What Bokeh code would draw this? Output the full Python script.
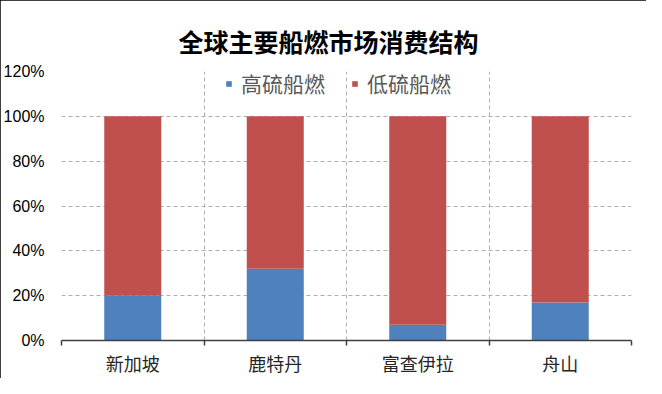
from bokeh.plotting import figure
from bokeh.models import (Range1d, FixedTicker, NumeralTickFormatter, Legend,
                          LegendItem, ColumnDataSource)
from bokeh.embed import file_html
from bokeh.resources import INLINE

title_text = "全球主要船燃市场消费结构"
ports = ["新加坡", "鹿特丹", "富查伊拉", "舟山"]
high_sulfur = [0.20, 0.32, 0.07, 0.17]
low_sulfur = [0.80, 0.68, 0.93, 0.83]
series_names = ["高硫船燃", "低硫船燃"]
series_colors = ["#4F81BD", "#C0504D"]
y_ticks = [0, 0.2, 0.4, 0.6, 0.8, 1.0, 1.2]

x_pos = [i + 0.5 for i in range(len(ports))]
boundaries = list(range(len(ports) + 1))
source = ColumnDataSource(dict(x=x_pos, high=high_sulfur, low=low_sulfur))

W, H = 646, 378
p = figure(width=W, height=H,
           x_range=Range1d(0, len(ports)), y_range=Range1d(0, 1.2),
           output_backend="svg", toolbar_location=None,
           min_border_left=61, min_border_right=15,
           min_border_top=71, min_border_bottom=36)
p.styles = {"outline": "3px solid #000000", "outline-offset": "-3px"}

rs = p.vbar_stack(["high", "low"], x="x", width=0.4, fill_color=series_colors,
                  line_color=None, source=source)

legend = Legend(items=[LegendItem(label=series_names[0], renderers=[rs[0]]),
                       LegendItem(label=series_names[1], renderers=[rs[1]])],
                orientation="horizontal", location=(164, 242))
legend.background_fill_alpha = 0
legend.border_line_color = None
legend.label_text_font = "Noto Sans CJK SC"
legend.label_text_font_size = "21px"
legend.label_text_color = "#595959"
legend.glyph_width = 7
legend.glyph_height = 7
legend.label_standoff = 9
legend.spacing = 26
legend.padding = 0
legend.margin = 0
p.add_layout(legend)

p.outline_line_color = None
p.background_fill_color = "white"
p.border_fill_color = "white"

# x axis
xa = p.xaxis[0]
xa.ticker = FixedTicker(ticks=x_pos, minor_ticks=boundaries)
xa.major_label_overrides = {x: name for x, name in zip(x_pos, ports)}
xa.major_tick_out = 0
xa.major_tick_in = 0
xa.minor_tick_out = 5
xa.minor_tick_in = 0
xa.axis_line_color = "#404040"
xa.axis_line_width = 1.5
xa.minor_tick_line_color = "#404040"
xa.minor_tick_line_width = 1.5
xa.major_label_text_font = "Noto Sans CJK SC"
xa.major_label_text_font_size = "18px"
xa.major_label_text_color = "#262626"
xa.major_label_standoff = 4

# y axis
ya = p.yaxis[0]
ya.ticker = FixedTicker(ticks=y_ticks)
ya.formatter = NumeralTickFormatter(format="0%")
ya.axis_line_color = None
ya.major_tick_line_color = None
ya.minor_tick_line_color = None
ya.major_label_text_font = "'Liberation Sans Narrow', 'Liberation Sans'"
ya.major_label_text_font_size = "16px"
ya.major_label_text_color = "#000000"
ya.major_label_standoff = 11

# grids
p.xgrid.ticker = FixedTicker(ticks=boundaries)
p.ygrid.ticker = FixedTicker(ticks=y_ticks)
for g in (p.xgrid[0], p.ygrid[0]):
    g.grid_line_color = "#AFAFAF"
    g.grid_line_dash = "4 3"
    g.grid_line_width = 1

p.title.text = title_text
p.title.align = "left"
p.title.offset = 117
p.title.text_font = "Noto Sans CJK SC"
p.title.text_font_size = "25px"
p.title.text_font_style = "bold"
p.title.text_color = "#000000"
p.title.standoff = 25

open("out.html", "w").write(file_html(p, INLINE))
